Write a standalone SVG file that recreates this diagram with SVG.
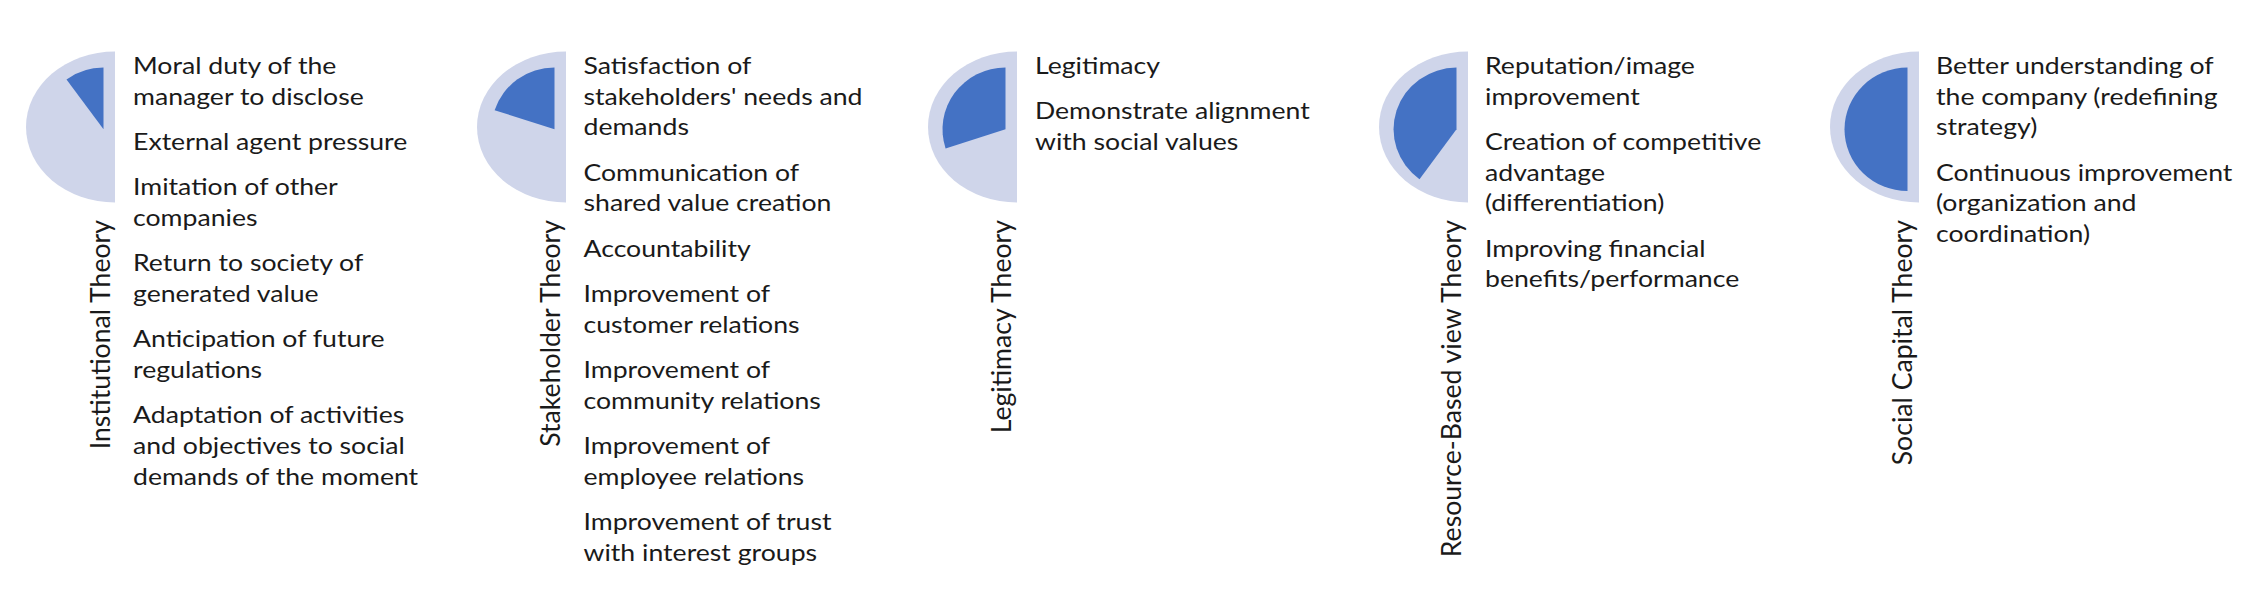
<svg xmlns="http://www.w3.org/2000/svg" width="2250" height="589" viewBox="0 0 2250 589">
<style>
.outer{fill:#CFD5EA}
.inner{fill:#4472C4}
.t{font-family:Lato,"Liberation Sans",sans-serif;font-size:24px;fill:#1a1a1a}
.lbl{font-family:Lato,"Liberation Sans",sans-serif;font-size:24px;fill:#1a1a1a;text-anchor:end}
</style>
<rect width="2250" height="589" fill="#fff"/>
<g id="connectors"></g>
<g id="institutional">
<path class="outer" d="M115,51.5 A89,75.5 0 0 0 115,202.5 Z"/>
<path class="inner" d="M103.5,129.3 L103.5,67.6 A63,61.7 0 0 0 66.5,79.4 Z"/>
<text class="lbl" transform="translate(110,220) rotate(-90) scale(1.11,1.12)">Institutional Theory</text>
<g transform="translate(133,0) scale(1.11,1)">
<text class="t" x="0" y="74">Moral duty of the</text>
<text class="t" x="0" y="104.7">manager to disclose</text>
<text class="t" x="0" y="150">External agent pressure</text>
<text class="t" x="0" y="195.3">Imitation of other</text>
<text class="t" x="0" y="226">companies</text>
<text class="t" x="0" y="271.3">Return to society of</text>
<text class="t" x="0" y="302">generated value</text>
<text class="t" x="0" y="347.3">Anticipation of future</text>
<text class="t" x="0" y="378">regulations</text>
<text class="t" x="0" y="423.3">Adaptation of activities</text>
<text class="t" x="0" y="454">and objectives to social</text>
<text class="t" x="0" y="484.7">demands of the moment</text>
</g>
</g>
<g id="stakeholder">
<path class="outer" d="M566,51.5 A89,75.5 0 0 0 566,202.5 Z"/>
<path class="inner" d="M554.5,129.3 L554.5,67.6 A63,61.7 0 0 0 494.6,110.2 Z"/>
<text class="lbl" transform="translate(560,220) rotate(-90) scale(1.11,1.12)">Stakeholder Theory</text>
<g transform="translate(583.5,0) scale(1.11,1)">
<text class="t" x="0" y="74">Satisfaction of</text>
<text class="t" x="0" y="104.7">stakeholders' needs and</text>
<text class="t" x="0" y="135.4">demands</text>
<text class="t" x="0" y="180.7">Communication of</text>
<text class="t" x="0" y="211.4">shared value creation</text>
<text class="t" x="0" y="256.7">Accountability</text>
<text class="t" x="0" y="302">Improvement of</text>
<text class="t" x="0" y="332.7">customer relations</text>
<text class="t" x="0" y="378">Improvement of</text>
<text class="t" x="0" y="408.7">community relations</text>
<text class="t" x="0" y="454">Improvement of</text>
<text class="t" x="0" y="484.7">employee relations</text>
<text class="t" x="0" y="530">Improvement of trust</text>
<text class="t" x="0" y="560.7">with interest groups</text>
</g>
</g>
<g id="legitimacy">
<path class="outer" d="M1017,51.5 A89,75.5 0 0 0 1017,202.5 Z"/>
<path class="inner" d="M1005.5,129.3 L1005.5,67.6 A63,61.7 0 0 0 945.6,148.4 Z"/>
<text class="lbl" transform="translate(1011,220) rotate(-90) scale(1.11,1.12)">Legitimacy Theory</text>
<g transform="translate(1035,0) scale(1.11,1)">
<text class="t" x="0" y="74">Legitimacy</text>
<text class="t" x="0" y="119.3">Demonstrate alignment</text>
<text class="t" x="0" y="150">with social values</text>
</g>
</g>
<g id="resource-based">
<path class="outer" d="M1468,51.5 A89,75.5 0 0 0 1468,202.5 Z"/>
<path class="inner" d="M1456.5,129.3 L1456.5,67.6 A63,61.7 0 0 0 1419.5,179.2 Z"/>
<text class="lbl" transform="translate(1461,220) rotate(-90) scale(1.11,1.12)">Resource-Based view Theory</text>
<g transform="translate(1485,0) scale(1.11,1)">
<text class="t" x="0" y="74">Reputation/image</text>
<text class="t" x="0" y="104.7">improvement</text>
<text class="t" x="0" y="150">Creation of competitive</text>
<text class="t" x="0" y="180.7">advantage</text>
<text class="t" x="0" y="211.4">(differentiation)</text>
<text class="t" x="0" y="256.7">Improving financial</text>
<text class="t" x="0" y="287.4">benefits/performance</text>
</g>
</g>
<g id="social-capital">
<path class="outer" d="M1919,51.5 A89,75.5 0 0 0 1919,202.5 Z"/>
<path class="inner" d="M1907.5,129.3 L1907.5,67.6 A63,61.7 0 0 0 1907.5,191 Z"/>
<text class="lbl" transform="translate(1912,220) rotate(-90) scale(1.11,1.12)">Social Capital Theory</text>
<g transform="translate(1936,0) scale(1.11,1)">
<text class="t" x="0" y="74">Better understanding of</text>
<text class="t" x="0" y="104.7">the company (redefining</text>
<text class="t" x="0" y="135.4">strategy)</text>
<text class="t" x="0" y="180.7">Continuous improvement</text>
<text class="t" x="0" y="211.4">(organization and</text>
<text class="t" x="0" y="242.1">coordination)</text>
</g>
</g>
</svg>
